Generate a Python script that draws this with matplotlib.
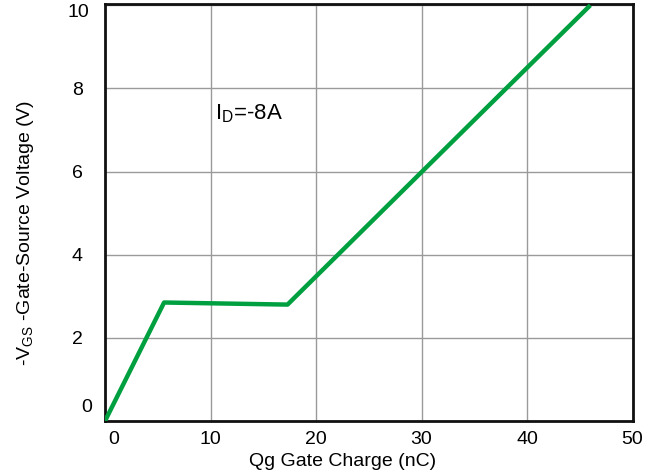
import matplotlib
matplotlib.use("Agg")
import matplotlib.pyplot as plt

plt.rcParams['font.family'] = ['Liberation Sans', 'DejaVu Sans']

qg = [0, 5.6, 17.3, 46.0]
vgs = [0, 2.85, 2.8, 10.0]
xticks = [0, 10, 20, 30, 40, 50]
yticks = [0, 2, 4, 6, 8, 10]

W, H = 659, 476
fig = plt.figure(figsize=(W/100, H/100), dpi=100)
ax = fig.add_axes([105/W, 1-421/H, (632.5-105)/W, (421-4)/H])
ax.plot(qg, vgs, color='#00A040', lw=3.2, solid_capstyle='butt', zorder=3)
ax.set_xlim(0, 50)
ax.set_ylim(0.15, 10.03)
ax.set_xticks(xticks)
ax.set_yticks(yticks)
fs = 14
ax.set_xticklabels(['' if v == 0 else str(v) for v in xticks], fontsize=fs)
ax.set_yticklabels(['' if v in (0, 10) else str(v) for v in yticks], fontsize=fs, ha='center')
ax.tick_params(axis='x', length=0, pad=7)
ax.tick_params(axis='y', length=0, pad=20)
ax.grid(True, color='#9a9a9a', lw=1)
for s in ax.spines.values():
    s.set_linewidth(2)
    s.set_color('#111111')

# irregularly placed tick labels in the reference
ax.annotate('0', xy=(0, 0), xycoords=('data', 'axes fraction'), xytext=(6.5, -7), textcoords='offset points',
            ha='center', va='top', fontsize=fs)
ax.annotate('0', xy=(0, 0), xycoords=('axes fraction', 'axes fraction'), xytext=(-13, 10), textcoords='offset points',
            ha='center', va='center', fontsize=fs)
ax.annotate('10', xy=(0, 1), xycoords=('axes fraction', 'axes fraction'), xytext=(-19.5, -6), textcoords='offset points',
            ha='center', va='center', fontsize=fs)

fig.text(343/W, 1-461/H, 'Qg Gate Charge (nC)', fontsize=fs, ha='center', va='center')
fig.text(26/W, 1-233/H, r'-V$_\mathregular{GS}$ -Gate-Source Voltage (V)', fontsize=fs,
         ha='center', va='center', rotation=90)
ax.text(10.4, 7.4, r'I$_\mathregular{D}$=-8A', fontsize=16, va='center', ha='left')
fig.savefig('out.png', dpi=100)
